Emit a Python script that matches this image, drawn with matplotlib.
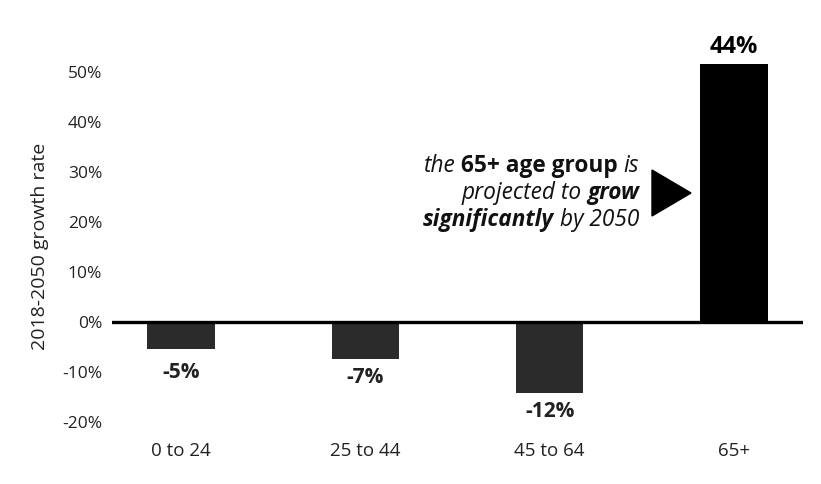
import matplotlib
matplotlib.use("Agg")
import matplotlib.pyplot as plt
from matplotlib.patches import Polygon

# values (bar heights) and the printed labels
groups = ["0 to 24", "25 to 44", "45 to 64", "65+"]
growth = [-5.3, -7.3, -14.1, 51.4]
value_labels = ["-5%", "-7%", "-12%", "44%"]
yticks = [-20, -10, 0, 10, 20, 30, 40, 50]
bar_colors = ["#2b2b2b", "#2b2b2b", "#2b2b2b", "#000000"]
label_offsets = [-10, -6, -6, 4]  # points, label gap from bar end

W, H = 821, 484
FONT = "Open Sans"

plt.rcParams["font.family"] = [FONT, "DejaVu Sans"]

fig = plt.figure(figsize=(W / 100, H / 100), dpi=100)
fig.patch.set_facecolor("white")


def px(x0, y0, x1, y1):
    """pixel box (top-left origin) -> figure fraction rect"""
    return [x0 / W, 1 - y1 / H, (x1 - x0) / W, (y1 - y0) / H]


ax = fig.add_axes(px(112, 10, 803, 436))
ppu = 5.01  # pixels per percentage point
ax.set_ylim(-(436 - 322) / ppu, (322 - 10) / ppu)
ax.set_xlim(-0.375, 3.375)

x = range(len(groups))
ax.bar(x, growth, width=0.365, color=bar_colors, zorder=2)
ax.axhline(0, color="black", lw=2.4, zorder=3)

for s in ax.spines.values():
    s.set_visible(False)
ax.set_yticks(yticks)
ax.set_yticklabels([f"{t}%" for t in yticks], fontsize=12.5, color="#222222")
ax.set_xticks(list(x))
ax.set_xticklabels(groups, fontsize=13.5, color="#222222")
ax.tick_params(axis="both", length=0)
ax.tick_params(axis="y", pad=7)
ax.tick_params(axis="x", pad=4.5)

for i, (v, lab, off) in enumerate(zip(growth, value_labels, label_offsets)):
    if v >= 0:
        ax.annotate(lab, (i, v), xytext=(0, off), textcoords="offset points",
                    ha="center", va="bottom", fontsize=17, fontweight="bold")
    else:
        ax.annotate(lab, (i, v), xytext=(0, off), textcoords="offset points",
                    ha="center", va="top", fontsize=15, fontweight="bold",
                    color="#222222")

fig.text(40 / W, 1 - 246 / H, "2018-2050 growth rate", rotation=90,
         ha="center", va="center", fontsize=14, color="#222222")

# annotation with mixed styles, right aligned
lines = [
    [("the", "italic", "normal"), ("65+ age group", "normal", "bold"), ("is", "italic", "normal")],
    [("projected to", "italic", "normal"), ("grow", "italic", "bold")],
    [("significantly", "italic", "bold"), ("by 2050", "italic", "normal")],
]
baselines = [172, 199, 226]
right_edge = 639
gap = 5.5
fig.canvas.draw()
rend = fig.canvas.get_renderer()
for segs, base in zip(lines, baselines):
    xr = right_edge
    for text, style, weight in reversed(segs):
        t = fig.text(xr / W, 1 - base / H, text, ha="right", va="baseline",
                     fontsize=16.3, style=style, fontweight=weight, color="#111111")
        w = t.get_window_extent(rend).width
        xr -= w + gap

tri = Polygon([(652 / W, 1 - 170 / H), (691 / W, 1 - 193 / H), (652 / W, 1 - 216 / H)],
              closed=True, transform=fig.transFigure, color="black")
fig.patches.append(tri)

fig.savefig("out.png", dpi=100)
